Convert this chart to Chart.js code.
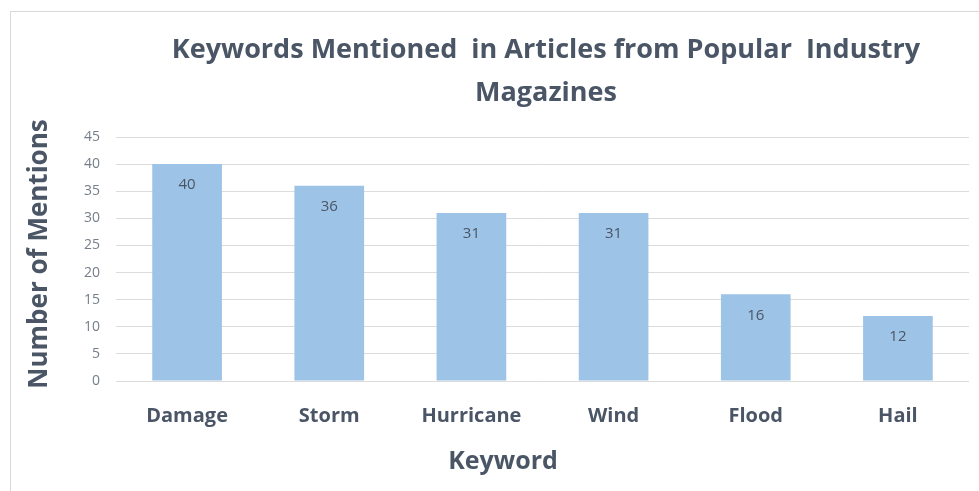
<!DOCTYPE html>
<html>
<head>
<meta charset="utf-8">
<script src="https://cdn.jsdelivr.net/npm/chart.js@4"></script>
<style>
  html, body { margin: 0; padding: 0; background: #fff; }
  #wrap { position: relative; width: 979px; height: 491px; overflow: hidden; }
  #frame { position: absolute; left: 10px; top: 11px; width: 1000px; height: 500px; border: 1px solid #d9d9d9; }
  canvas { position: absolute; left: 0; top: 0; }
</style>
</head>
<body>
<div id="wrap">
  <div id="frame"></div>
  <canvas id="chart" width="979" height="491"></canvas>
</div>
<script>
// Data
const keywords = ['Damage', 'Storm', 'Hurricane', 'Wind', 'Flood', 'Hail'];
const mentions = [40, 36, 31, 31, 16, 12];
const titleLines = ['Keywords Mentioned  in Articles from Popular  Industry', 'Magazines'];
const yTitle = 'Number of Mentions';
const xTitle = 'Keyword';

const fontFamily = '"Open Sans", Lato, sans-serif';
const textColor = '#4a5566';

// Title, axis titles and value labels drawn by hand
const textPlugin = {
    id: 'texts',
    afterDatasetsDraw(chart) {
        const ctx = chart.ctx;
        ctx.save();
        ctx.fillStyle = textColor;
        ctx.textAlign = 'center';
        ctx.textBaseline = 'middle';

        // title
        ctx.font = 'bold 27px ' + fontFamily;
        ctx.fillText(titleLines[0], 546, 50);
        ctx.fillText(titleLines[1], 546, 93);

        // x title
        ctx.font = 'bold 25px ' + fontFamily;
        ctx.fillText(xTitle, 503, 462);

        // y title
        ctx.save();
        ctx.translate(40, 254);
        ctx.rotate(-Math.PI / 2);
        ctx.font = 'bold 26px ' + fontFamily;
        ctx.fillText(yTitle, 0, 0);
        ctx.restore();

        // value labels inside the bars
        ctx.font = '15px ' + fontFamily;
        const meta = chart.getDatasetMeta(0);
        meta.data.forEach((bar, i) => {
            ctx.fillText(String(mentions[i]), bar.x, bar.y + 21);
        });
        ctx.restore();
    }
};

new Chart(document.getElementById('chart').getContext('2d'), {
    type: 'bar',
    data: {
        labels: keywords,
        datasets: [{
            data: mentions,
            backgroundColor: '#9dc3e6',
            borderWidth: 0,
            categoryPercentage: 1,
            barPercentage: 0.49,
        }],
    },
    options: {
        responsive: false,
        animation: false,
        layout: { padding: { left: 0, top: 137, right: 10, bottom: 0 } },
        plugins: {
            legend: { display: false },
            title: { display: false },
            tooltip: { enabled: false },
        },
        scales: {
            x: {
                grid: { display: false },
                border: { display: false },
                ticks: {
                    color: textColor,
                    font: { family: fontFamily, size: 20, weight: 'bold' },
                    padding: 15,
                },
                afterFit(scale) { scale.height = 110; },
            },
            y: {
                min: 0,
                max: 45,
                ticks: {
                    stepSize: 5,
                    color: '#767e89',
                    font: { family: fontFamily, size: 14 },
                    padding: 16,
                },
                grid: { color: '#dcdcdc', drawTicks: false },
                border: { display: false },
                afterFit(scale) { scale.width = 116; },
            },
        },
    },
    plugins: [textPlugin],
});
</script>
</body>
</html>
